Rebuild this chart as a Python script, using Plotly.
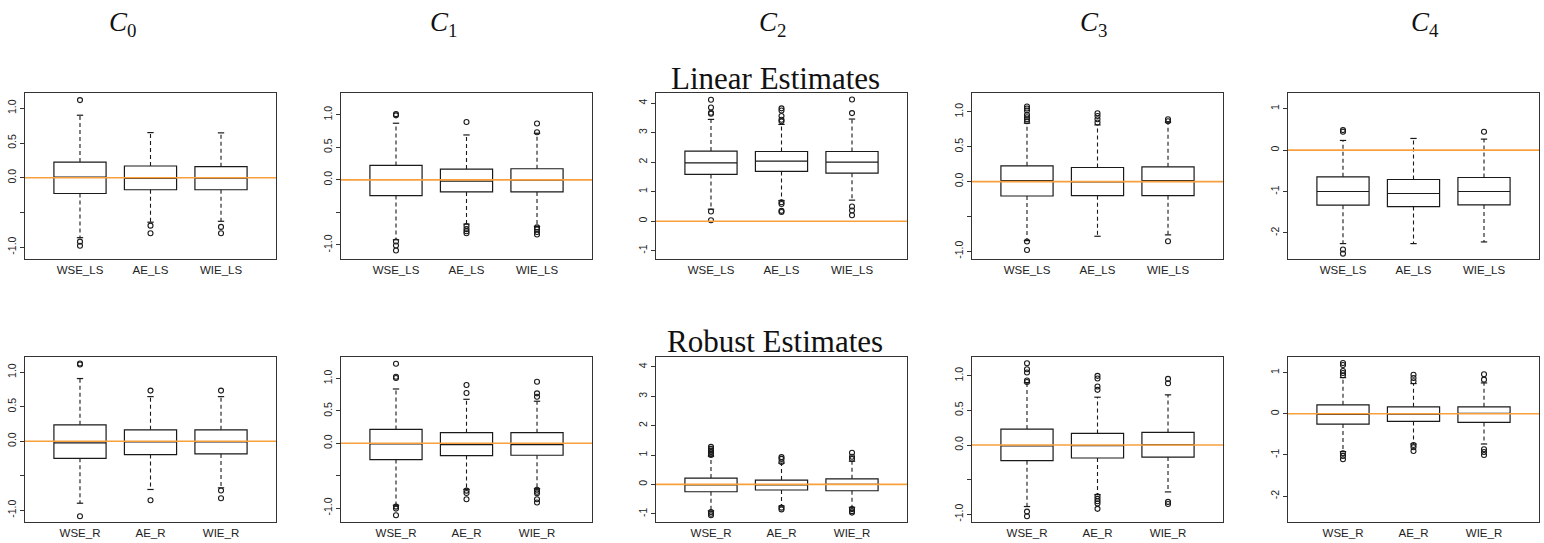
import plotly.graph_objects as go

W, H = 1544, 543

components = ["0", "1", "2", "3", "4"]
ls_labels = ["WSE_LS", "AE_LS", "WIE_LS"]
r_labels = ["WSE_R", "AE_R", "WIE_R"]
row_titles = ["Linear Estimates", "Robust Estimates"]
true_value = [0, 0, 0, 0, 0]

# y-axis limits and ticks per component (shared by both rows)
y_limits = [[-1.17, 1.22], [-1.215, 1.333], [-1.28, 4.34], [-1.11, 1.27], [-2.63, 1.38]]
y_tickvals = [[-1, 0, 0.5, 1], [-1, 0, 0.5, 1], [-1, 0, 1, 2, 3, 4],
              [-1, 0, 0.5, 1], [-2, -1, 0, 1]]
y_ticktext = [["-1.0", "0.0", "0.5", "1.0"], ["-1.0", "0.0", "0.5", "1.0"],
              ["-1", "0", "1", "2", "3", "4"], ["-1.0", "0.0", "0.5", "1.0"],
              ["-2", "-1", "0", "1"]]
y_unlabelled_ticks = [[-0.5], [-0.5], [], [-0.5], []]

# ---- Linear (LS) estimates: per component, per estimator (WSE, AE, WIE)
ls_upper = [[0.90, 0.65, 0.646], [0.869, 0.689, 0.715], [3.446, 3.277, 3.458],
            [0.837, 0.8125, 0.851], [0.234, 0.282, 0.266]]
ls_q3 = [[0.226, 0.169, 0.159], [0.221, 0.165, 0.17], [2.373, 2.36, 2.36],
         [0.226, 0.202, 0.212], [-0.645, -0.71, -0.661]]
ls_median = [[0.01, -0.01, -0.005], [0.005, -0.02, -0.005], [1.977, 2.034, 2.0],
             [0.014, -0.005, 0.014], [-1.0, -1.048, -1.0]]
ls_q1 = [[-0.227, -0.173, -0.173], [-0.242, -0.185, -0.185], [1.582, 1.684, 1.627],
         [-0.207, -0.202, -0.202], [-1.33, -1.363, -1.323]]
ls_lower = [[-0.863, -0.64, -0.627], [-0.92, -0.679, -0.715], [0.407, 0.70, 0.712],
            [-0.846, -0.784, -0.764], [-2.258, -2.258, -2.218]]
ls_outliers = [
    [[1.118, -0.92, -0.98], [-0.69, -0.80], [-0.708, -0.80]],
    [[1.008, 0.99, -0.946, -1.008, -1.085], [0.889, -0.71, -0.756, -0.79, -0.82],
     [0.864, 0.73, -0.73, -0.76, -0.80, -0.84]],
    [[4.11, 3.85, 3.67, 3.64, 0.328, 0.034], [3.82, 3.75, 3.56, 3.435, 3.38, 0.64, 0.58, 0.35, 0.31],
     [4.12, 3.66, 0.497, 0.362, 0.203]],
    [[1.077, 1.048, 1.019, 0.957, 0.923, 0.894, 0.865, -0.86, -0.98], [0.98, 0.94, 0.894, 0.846],
     [0.894, 0.865, -0.856]],
    [[0.484, 0.444, -2.40, -2.5], [], [0.444]],
]

# ---- Robust (R) estimates
r_upper = [[0.908, 0.646, 0.646], [0.839, 0.68, 0.65], [0.96, 0.726, 0.79],
           [0.90, 0.69, 0.724], [0.879, 0.734, 0.75]]
r_q3 = [[0.238, 0.165, 0.165], [0.215, 0.164, 0.164], [0.215, 0.147, 0.19],
        [0.23, 0.168, 0.182], [0.218, 0.169, 0.169]]
r_median = [[-0.024, -0.01, -0.01], [-0.01, -0.02, -0.02], [-0.02, -0.02, 0.0],
            [-0.014, -0.01, 0.005], [-0.016, -0.008, 0.008]]
r_q1 = [[-0.248, -0.194, -0.184], [-0.251, -0.189, -0.184], [-0.25, -0.19, -0.215],
        [-0.225, -0.187, -0.173], [-0.25, -0.185, -0.21]]
r_lower = [[-0.898, -0.699, -0.675], [-0.957, -0.711, -0.70], [-0.9, -0.737, -0.78],
           [-0.887, -0.715, -0.676], [-0.919, -0.734, -0.734]]
r_outliers = [
    [[1.126, 1.112, -1.087], [0.733, -0.854], [0.733, -0.714, -0.825]],
    [[1.228, 1.028, 1.008, -0.977, -1.008, -1.11], [0.90, 0.777, -0.731, -0.767, -0.864],
     [0.951, 0.772, 0.72, -0.716, -0.747, -0.772, -0.864, -0.915]],
    [[1.28, 1.21, 1.15, 1.10, 1.05, 1.0, -0.94, -1.0, -1.05], [0.93, 0.87, 0.76, -0.79, -0.85],
     [1.08, 0.94, 0.87, -0.84, -0.91, -0.96]],
    [[1.18, 1.094, 1.046, 0.93, 0.91, -0.96, -1.026],
     [0.998, 0.96, 0.844, 0.796, -0.739, -0.777, -0.81, -0.844, -0.92],
     [0.954, 0.892, -0.82, -0.85]],
    [[1.234, 1.185, 1.04, 0.99, 0.935, -0.96, -1.024, -1.105], [0.95, 0.87, 0.79, -0.758, -0.815, -0.903],
     [0.96, 0.83, -0.863, -0.927, -1.0]],
]

# ---------------- layout geometry (pixels) ----------------
panel_left = [25, 341, 656, 972, 1288]
panel_w = 251
row_top = [93, 357]
row_bottom = [259, 522]
title_x = [122, 443, 772, 1093, 1425]
x_range = [0.22, 3.78]
box_width = 0.74
cap_half = 0.045
positions = [1, 2, 3]

ORANGE = "#F7A03C"
INK = "#1a1a1a"

fig = go.Figure()
layout_axes = {}

rows = [
    (ls_labels, ls_lower, ls_q1, ls_median, ls_q3, ls_upper, ls_outliers),
    (r_labels, r_lower, r_q1, r_median, r_q3, r_upper, r_outliers),
]

k = 0
for ri, (labels, lo, q1, med, q3, up, outl) in enumerate(rows):
    for ci in range(5):
        k += 1
        xa = "x" if k == 1 else f"x{k}"
        ya = "y" if k == 1 else f"y{k}"
        # box bodies
        fig.add_trace(go.Box(
            x=positions, q1=q1[ci], median=med[ci], q3=q3[ci],
            lowerfence=q1[ci], upperfence=q3[ci], width=box_width,
            fillcolor="white", line=dict(color=INK, width=1.2),
            boxpoints=False, showlegend=False, hoverinfo="skip",
            xaxis=xa, yaxis=ya))
        # dashed whiskers
        wx, wy, cx, cy = [], [], [], []
        for j, p in enumerate(positions):
            wx += [p, p, None, p, p, None]
            wy += [q3[ci][j], up[ci][j], None, q1[ci][j], lo[ci][j], None]
            cx += [p - cap_half, p + cap_half, None, p - cap_half, p + cap_half, None]
            cy += [up[ci][j], up[ci][j], None, lo[ci][j], lo[ci][j], None]
        fig.add_trace(go.Scatter(x=wx, y=wy, mode="lines",
                                 line=dict(color=INK, width=1.1, dash="4px,3px"),
                                 showlegend=False, hoverinfo="skip", xaxis=xa, yaxis=ya))
        fig.add_trace(go.Scatter(x=cx, y=cy, mode="lines",
                                 line=dict(color=INK, width=1.2),
                                 showlegend=False, hoverinfo="skip", xaxis=xa, yaxis=ya))
        # outliers
        ox, oy = [], []
        for j, p in enumerate(positions):
            ox += [p] * len(outl[ci][j])
            oy += outl[ci][j]
        fig.add_trace(go.Scatter(x=ox, y=oy, mode="markers",
                                 marker=dict(symbol="circle-open", size=5,
                                             color=INK, line=dict(width=1.1)),
                                 showlegend=False, hoverinfo="skip", xaxis=xa, yaxis=ya))
        # true value line
        fig.add_trace(go.Scatter(x=x_range, y=[true_value[ci]] * 2, mode="lines",
                                 line=dict(color=ORANGE, width=1.6),
                                 showlegend=False, hoverinfo="skip", xaxis=xa, yaxis=ya))

        x0 = panel_left[ci] / W
        x1 = (panel_left[ci] + panel_w) / W
        y0 = 1 - row_bottom[ri] / H
        y1 = 1 - row_top[ri] / H
        layout_axes["xaxis" if k == 1 else f"xaxis{k}"] = dict(
            domain=[x0, x1], anchor=ya, range=x_range,
            tickvals=positions, ticktext=labels, ticks="", showgrid=False,
            zeroline=False, showline=True, mirror=True, linecolor="#333333",
            linewidth=1.2, tickfont=dict(family="Liberation Sans, Arial", size=11.5, color="#222"),
        )
        layout_axes["yaxis" if k == 1 else f"yaxis{k}"] = dict(
            domain=[y0, y1], anchor=xa, range=y_limits[ci],
            tickvals=y_tickvals[ci], ticktext=y_ticktext[ci], tickangle=-90,
            ticks="outside", ticklen=4, tickcolor="#333333", showgrid=False,
            minor=dict(tickvals=y_unlabelled_ticks[ci], ticks="outside", ticklen=4,
                       tickcolor="#333333", showgrid=False),
            zeroline=False, showline=True, mirror=True, linecolor="#333333",
            linewidth=1.2, tickfont=dict(family="Liberation Sans, Arial", size=10.5, color="#222"),
        )

annotations = []
for ci, c in enumerate(components):
    annotations.append(dict(
        text=f"<i>C</i><sub>{c}</sub>", x=title_x[ci] / W, y=1 - 24 / H,
        xref="paper", yref="paper", xanchor="center", yanchor="middle",
        showarrow=False, font=dict(family="Liberation Serif", size=27, color="#111")))
for ri, t in enumerate(row_titles):
    annotations.append(dict(
        text=t, x=775 / W, y=1 - [79, 342][ri] / H,
        xref="paper", yref="paper", xanchor="center", yanchor="middle",
        showarrow=False, font=dict(family="Liberation Serif", size=31, color="#111")))

fig.update_layout(
    width=W, height=H, margin=dict(l=0, r=0, t=0, b=0),
    paper_bgcolor="white", plot_bgcolor="white",
    annotations=annotations, showlegend=False, **layout_axes)

fig.write_html("out.html", config={"displayModeBar": False},
               post_script="document.body.style.margin='0px';document.body.style.overflow='hidden';")
